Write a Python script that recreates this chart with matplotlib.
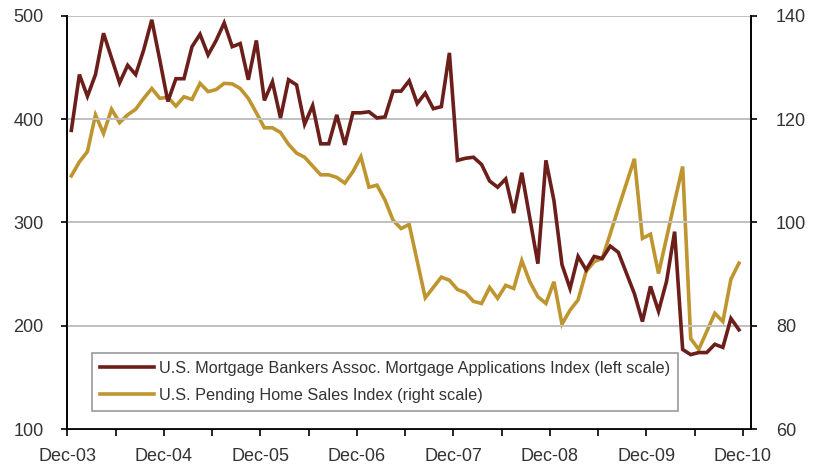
import matplotlib
matplotlib.use("Agg")
import matplotlib.pyplot as plt
import numpy as np

# Monthly data, Jan-04 .. Dec-10
mba_index = [389, 443, 422, 443, 483, 459, 435, 452, 443, 467, 496, 457,
             417, 439, 439, 470, 482, 462, 476, 493, 470, 473, 438, 476,
             418, 436, 401, 438, 433, 395, 413, 376, 376, 404, 375, 406,
             406, 407, 401, 402, 427, 427, 437, 415, 425, 410, 412, 464,
             360, 362, 363, 356, 340, 334, 342, 309, 348, 304, 260, 360,
             321, 259, 236, 267, 254, 267, 265, 277, 271, 251, 231, 204,
             238, 214, 243, 291, 177, 172, 174, 174, 182, 179, 207, 196]
pending_sales = [109.0, 111.7, 113.7, 120.8, 117.2, 121.9, 119.3, 120.8, 121.9, 124.0, 125.9, 124.0,
                 124.2, 122.5, 124.3, 123.8, 126.9, 125.3, 125.7, 126.9, 126.8, 125.9, 124.0, 121.2,
                 118.3, 118.3, 117.4, 115.1, 113.4, 112.6, 110.9, 109.2, 109.2, 108.7, 107.6, 109.8,
                 112.7, 106.8, 107.2, 104.3, 100.4, 98.8, 99.6, 92.5, 85.4, 87.4, 89.4, 88.8,
                 87.0, 86.4, 84.7, 84.3, 87.4, 85.3, 87.8, 87.2, 92.6, 88.5, 85.6, 84.3,
                 88.5, 80.3, 83.0, 85.0, 90.5, 92.4, 93.0, 97.8, 102.7, 107.5, 112.3, 96.9,
                 97.7, 90.1, 97.0, 104.0, 110.8, 77.5, 75.4, 78.9, 82.4, 80.8, 89.0, 92.1]
x_labels = ["Dec-03", "Dec-04", "Dec-05", "Dec-06", "Dec-07", "Dec-08", "Dec-09", "Dec-10"]
left_ticks = [100, 200, 300, 400, 500]
right_ticks = [60, 80, 100, 120, 140]
label_mba = "U.S. Mortgage Bankers Assoc. Mortgage Applications Index (left scale)"
label_phs = "U.S. Pending Home Sales Index (right scale)"

plt.rcParams['font.family'] = ['Liberation Sans', 'DejaVu Sans']
TXT = '#333333'
BROWN = '#6B1E1A'
GOLD = '#BE952F'

fig = plt.figure(figsize=(8.15, 4.68), dpi=100)
ax = fig.add_axes([0.0826, 0.0833, 0.9215 - 0.0826, 0.9665 - 0.0833])
ax2 = ax.twinx()

months = np.arange(len(mba_index)) + 0.5
l1, = ax.plot(months, mba_index, color=BROWN, lw=2.6, solid_joinstyle='miter', zorder=3)
l2, = ax2.plot(months, pending_sales, color=GOLD, lw=2.6, solid_joinstyle='miter', zorder=3)

ax.set_xlim(0, 85)
ax.set_ylim(100, 500)
ax2.set_ylim(60, 140)
ax.set_yticks(left_ticks)
ax2.set_yticks(right_ticks)
ax.set_xticks(np.arange(0, 85, 6))
ax.set_xticklabels([x_labels[i // 2] if i % 2 == 0 else "" for i in range(15)])

for a in (ax, ax2):
    for s in a.spines.values():
        s.set_color('black')
        s.set_linewidth(1.2)
    a.spines['top'].set_visible(False)

ax.grid(axis='y', color='#C0C0C0', lw=1.4, zorder=0)
ax.set_axisbelow(True)
ax.tick_params(axis='x', direction='out', length=5, width=1.2, pad=9, labelsize=13, labelcolor=TXT)
ax.tick_params(axis='y', direction='out', length=4, width=1.2, pad=13, labelsize=13, labelcolor=TXT)
ax2.tick_params(axis='y', direction='out', length=4, width=1.2, pad=14, labelsize=13, labelcolor=TXT)

ax.set_zorder(ax2.get_zorder() + 1)
ax.patch.set_visible(False)

leg = ax.legend([l1, l2], [label_mba, label_phs], loc='lower left',
                bbox_to_anchor=(0.036, 0.043), fontsize=11.7, frameon=True,
                fancybox=False, edgecolor='#808080', handlelength=3.3,
                handletextpad=0.3, borderpad=0.5, labelspacing=0.75,
                borderaxespad=0)
leg.get_frame().set_linewidth(1.2)
for t in leg.get_texts():
    t.set_color(TXT)

fig.savefig("out.png", dpi=100)
